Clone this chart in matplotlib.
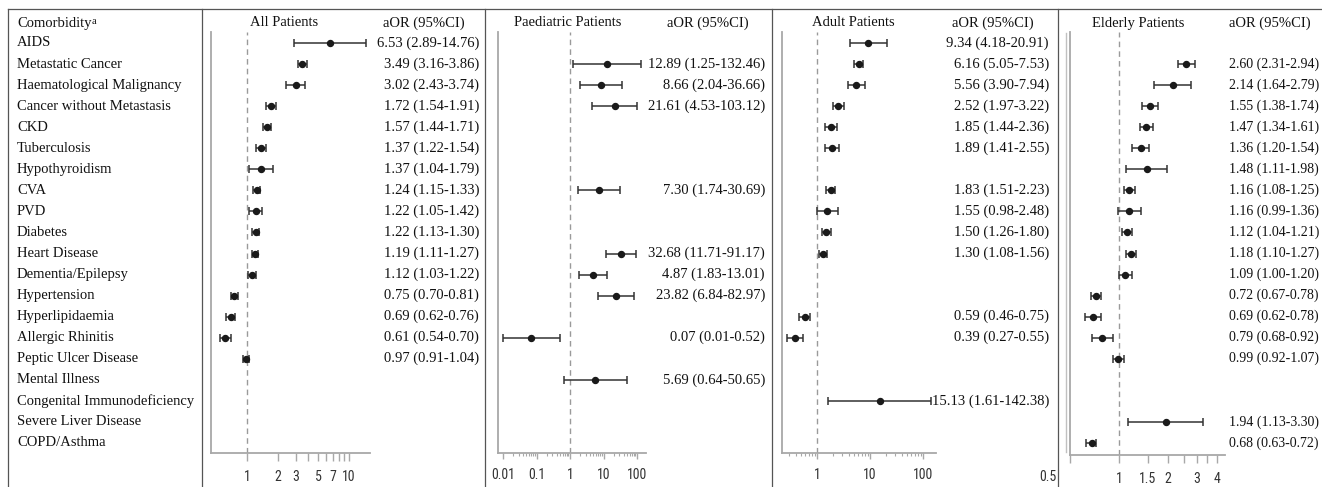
import numpy as np
import matplotlib
matplotlib.use("Agg")
import matplotlib.pyplot as plt
from matplotlib import transforms
from matplotlib.lines import Line2D
from matplotlib.ticker import FixedLocator, FixedFormatter, NullFormatter
from matplotlib import font_manager as fm

nan = np.nan

comorbidities = [
    "AIDS", "Metastatic Cancer", "Haematological Malignancy", "Cancer without Metastasis",
    "CKD", "Tuberculosis", "Hypothyroidism", "CVA", "PVD", "Diabetes", "Heart Disease",
    "Dementia/Epilepsy", "Hypertension", "Hyperlipidaemia", "Allergic Rhinitis",
    "Peptic Ulcer Disease", "Mental Illness", "Congenital Immunodeficiency",
    "Severe Liver Disease", "COPD/Asthma",
]

all_or = [6.53, 3.49, 3.02, 1.72, 1.57, 1.37, 1.37, 1.24, 1.22, 1.22, 1.19, 1.12, 0.75, 0.69, 0.61, 0.97, nan, nan, nan, nan]
all_lo = [2.89, 3.16, 2.43, 1.54, 1.44, 1.22, 1.04, 1.15, 1.05, 1.13, 1.11, 1.03, 0.70, 0.62, 0.54, 0.91, nan, nan, nan, nan]
all_hi = [14.76, 3.86, 3.74, 1.91, 1.71, 1.54, 1.79, 1.33, 1.42, 1.30, 1.27, 1.22, 0.81, 0.76, 0.70, 1.04, nan, nan, nan, nan]

paed_or = [nan, 12.89, 8.66, 21.61, nan, nan, nan, 7.30, nan, nan, 32.68, 4.87, 23.82, nan, 0.07, nan, 5.69, nan, nan, nan]
paed_lo = [nan, 1.25, 2.04, 4.53, nan, nan, nan, 1.74, nan, nan, 11.71, 1.83, 6.84, nan, 0.01, nan, 0.64, nan, nan, nan]
paed_hi = [nan, 132.46, 36.66, 103.12, nan, nan, nan, 30.69, nan, nan, 91.17, 13.01, 82.97, nan, 0.52, nan, 50.65, nan, nan, nan]

adult_or = [9.34, 6.16, 5.56, 2.52, 1.85, 1.89, nan, 1.83, 1.55, 1.50, 1.30, nan, nan, 0.59, 0.39, nan, nan, 15.13, nan, nan]
adult_lo = [4.18, 5.05, 3.90, 1.97, 1.44, 1.41, nan, 1.51, 0.98, 1.26, 1.08, nan, nan, 0.46, 0.27, nan, nan, 1.61, nan, nan]
adult_hi = [20.91, 7.53, 7.94, 3.22, 2.36, 2.55, nan, 2.23, 2.48, 1.80, 1.56, nan, nan, 0.75, 0.55, nan, nan, 142.38, nan, nan]

eld_or = [nan, 2.60, 2.14, 1.55, 1.47, 1.36, 1.48, 1.16, 1.16, 1.12, 1.18, 1.09, 0.72, 0.69, 0.79, 0.99, nan, nan, 1.94, 0.68]
eld_lo = [nan, 2.31, 1.64, 1.38, 1.34, 1.20, 1.11, 1.08, 0.99, 1.04, 1.10, 1.00, 0.67, 0.62, 0.68, 0.92, nan, nan, 1.13, 0.63]
eld_hi = [nan, 2.94, 2.79, 1.74, 1.61, 1.54, 1.98, 1.25, 1.36, 1.21, 1.27, 1.20, 0.78, 0.78, 0.92, 1.07, nan, nan, 3.30, 0.72]

panel_titles = ["All Patients", "Paediatric Patients", "Adult Patients", "Elderly Patients"]

all_ticks = [1, 2, 3, 4, 5, 6, 7, 8, 9, 10]
all_ticklabels = ["1", "2", "3", "", "5", "", "7", "", "", "10"]
paed_ticks = [0.01, 0.1, 1, 10, 100]
paed_ticklabels = ["0.01", "0.1", "1", "10", "100"]
adult_ticks = [1, 10, 100]
adult_ticklabels = ["1", "10", "100"]
eld_ticks = [0.5, 1, 1.5, 2, 2.5, 3, 3.5, 4]
eld_ticklabels = ["", "1", "1.5", "2", "", "3", "", "4"]
eld_first_label = "0.5"

# ---------------------------------------------------------------- layout
W, H = 1322, 487
fig = plt.figure(figsize=(W / 100, H / 100), dpi=100)
fig.patch.set_facecolor("white")

SERIF = "Liberation Serif"
names = {f.name for f in fm.fontManager.ttflist}
TICKF, TICKSTRETCH = "Liberation Sans", "normal"
for cand in ["Liberation Sans Narrow", "Arial Narrow", "Roboto Condensed", "Open Sans Condensed"]:
    if cand in names:
        TICKF = cand
        break
else:
    for f in fm.fontManager.ttflist:
        if f.name in ("DejaVu Sans", "Open Sans", "Noto Sans") and "condensed" in str(f.stretch) \
                and f.weight in (400, "normal", "regular", "book"):
            TICKF, TICKSTRETCH = f.name, f.stretch
            break
TICKFS = 10.0 if TICKSTRETCH != "normal" or TICKF != "Liberation Sans" else 8.8
TPAD = 6.0

FS = 10.5
TXT = "#111111"
GRID = "#a8a8a8"
LINE = "#555555"


def fx(px):
    return px / W


def fy(py):
    return 1 - py / H


def fig_line(x0, y0, x1, y1, color=LINE, lw=0.9):
    fig.add_artist(Line2D([fx(x0), fx(x1)], [fy(y0), fy(y1)], transform=fig.transFigure,
                          color=color, lw=lw))


# table frame
fig_line(8, 9, W, 9)
for xv in [8, 202, 485, 772, 1058]:
    fig_line(xv, 9, xv, H)

# header
hdr = fig.text(fx(17), fy(23), "Comorbidity", family=SERIF, fontsize=FS, color=TXT,
               va="center", ha="left")
fig.add_artist(plt.Annotation("a", xy=(1, 0.95), xycoords=hdr, xytext=(0.3, 0),
                              textcoords="offset points", va="top", ha="left",
                              fontsize=7.5, family=SERIF, color=TXT))

title_centers = [284, 568, 853, 1138]
aor_centers = [424, 708, 993, 1270]
for t, c, a in zip(panel_titles, title_centers, aor_centers):
    fig.text(fx(c), fy(23), t, family=SERIF, fontsize=FS, color=TXT, va="center", ha="center")
    fig.text(fx(a), fy(23), "aOR (95%CI)", family=SERIF, fontsize=FS, color=TXT, va="center", ha="center")

# row labels
row0, rowstep = 43, 21.05
for i, name in enumerate(comorbidities):
    fig.text(fx(17), fy(row0 + i * rowstep), name, family=SERIF, fontsize=FS, color=TXT,
             va="center", ha="left")

panels = [
    dict(x0=211, x1=370, ybot=453, one=247, dec=101.7, vals=(all_or, all_lo, all_hi),
         ticks=all_ticks, labels=all_ticklabels, minor=None, tlen=6.0, mlen=0,
         tx=479, ha="right", tfs=FS),
    dict(x0=498, x1=646, ybot=453, one=570, dec=33.5, vals=(paed_or, paed_lo, paed_hi),
         ticks=paed_ticks, labels=paed_ticklabels,
         minor=[m * d for d in [0.01, 0.1, 1, 10, 100] for m in range(2, 10)],
         tlen=4.5, mlen=2.5, tx=765, ha="right", tfs=FS),
    dict(x0=782, x1=936, ybot=453, one=817, dec=53.0, vals=(adult_or, adult_lo, adult_hi),
         ticks=adult_ticks, labels=adult_ticklabels,
         minor=[m * d for d in [0.1, 1, 10, 100] for m in range(2, 10)],
         tlen=4.5, mlen=2.5, tx=1049, ha="right", tfs=FS),
    dict(x0=1070, x1=1225, ybot=455, one=1119, dec=162.5, vals=(eld_or, eld_lo, eld_hi),
         ticks=eld_ticks, labels=eld_ticklabels, minor=None, tlen=6.0, mlen=0,
         tx=1229, ha="left", tfs=10.0),
]

ytop = 32
for k, p in enumerate(panels):
    ax = fig.add_axes([fx(p["x0"]), fy(p["ybot"]), fx(p["x1"] - p["x0"]), (p["ybot"] - ytop) / H])
    ax.set_facecolor("none")
    ax.set_xscale("log")
    xl = 10 ** ((p["x0"] - p["one"]) / p["dec"])
    xr = 10 ** ((p["x1"] - p["one"]) / p["dec"])
    if abs(xl / p["ticks"][0] - 1) < 0.02:
        xl = p["ticks"][0] * 0.999
    ax.set_xlim(xl, xr)
    ybottom_data = (p["ybot"] - row0) / rowstep
    ytop_data = (ytop - row0) / rowstep
    ax.set_ylim(ybottom_data, ytop_data)

    for s in ["top", "right"]:
        ax.spines[s].set_visible(False)
    for s in ["left", "bottom"]:
        ax.spines[s].set_color(GRID)
        ax.spines[s].set_linewidth(1.3)
    ax.set_yticks([])

    ax.xaxis.set_major_locator(FixedLocator(p["ticks"]))
    ax.xaxis.set_major_formatter(FixedFormatter(p["labels"]))
    if p["minor"] is not None:
        mn = [m for m in p["minor"] if xl <= m <= xr]
        ax.xaxis.set_minor_locator(FixedLocator(mn))
    else:
        ax.xaxis.set_minor_locator(FixedLocator([]))
    ax.xaxis.set_minor_formatter(NullFormatter())
    ax.tick_params(axis="x", which="major", length=p["tlen"], width=1.0, color=GRID,
                   labelsize=TICKFS, labelcolor="#333333", pad=TPAD)
    ax.tick_params(axis="x", which="minor", length=p["mlen"], width=0.8, color=GRID)
    for lab in ax.get_xticklabels():
        lab.set_family(TICKF)
        lab.set_stretch(TICKSTRETCH)

    if k == 3:
        ax.annotate(eld_first_label, xy=(eld_ticks[0], 0), xycoords=("data", "axes fraction"),
                    xytext=(-16, -(p["tlen"] + TPAD - 1.0)), textcoords="offset points",
                    ha="center", va="top", fontsize=TICKFS, family=TICKF,
                    fontstretch=TICKSTRETCH, color="#333333", annotation_clip=False)

    ax.axvline(1, color="#9a9a9a", lw=1.0, ls=(0, (4, 3)), zorder=1)

    orv, lo, hi = (np.asarray(v, dtype=float) for v in p["vals"])
    rows = np.arange(len(comorbidities))
    ok = ~np.isnan(orv)
    ax.errorbar(orv[ok], rows[ok], xerr=[orv[ok] - lo[ok], hi[ok] - orv[ok]], fmt="o",
                color="#1a1a1a", ecolor="#333333", elinewidth=1.1, capsize=3.0, capthick=1.1,
                markersize=4.3, zorder=3)

    tr = transforms.blended_transform_factory(fig.transFigure, ax.transData)
    for r in rows[ok]:
        s = f"{orv[r]:.2f} ({lo[r]:.2f}-{hi[r]:.2f})"
        ax.text(fx(p["tx"]), r, s, transform=tr, family=SERIF, fontsize=p["tfs"], color=TXT,
                ha=p["ha"], va="center", clip_on=False)

# double line beside elderly axis
fig_line(1066, 33, 1066, 452, color="#c0c0c0", lw=1.0)

fig.savefig("out.png", dpi=100, facecolor="white")
